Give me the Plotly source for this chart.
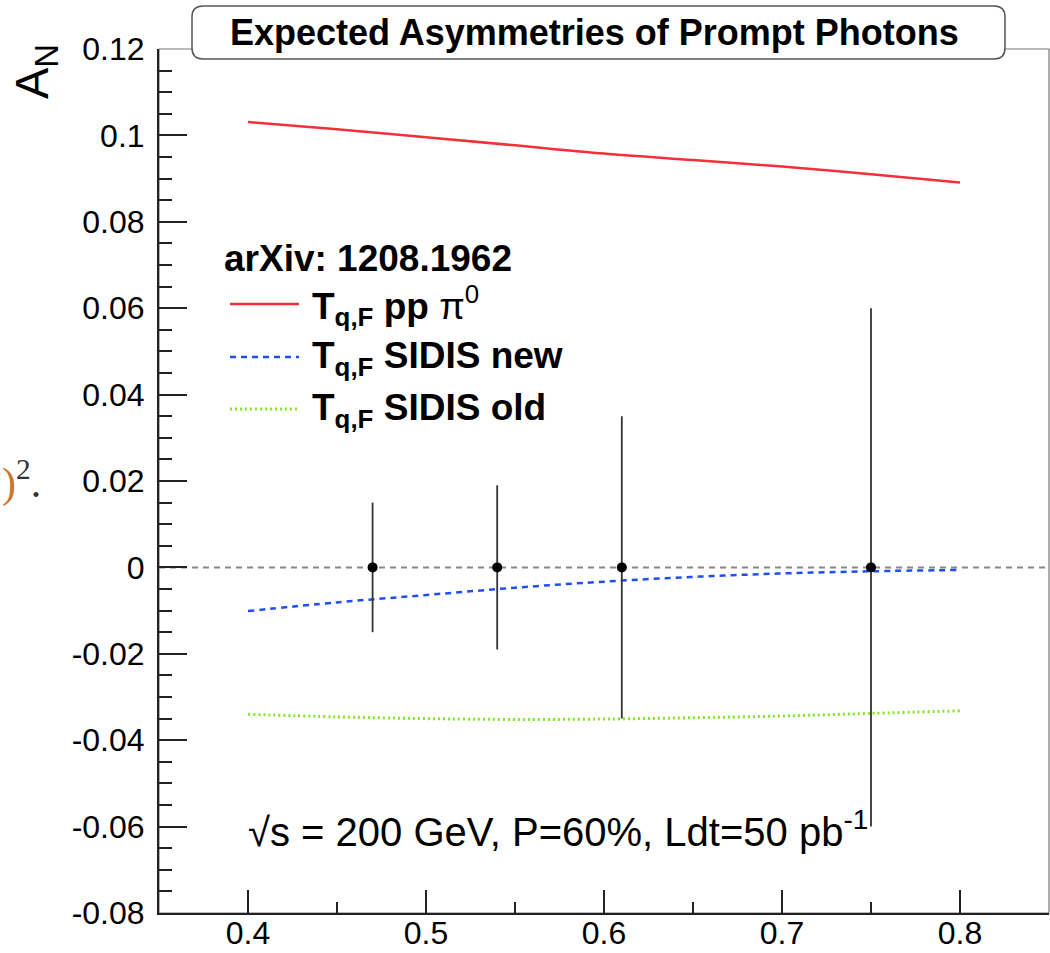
import plotly.graph_objects as go

# ---------------- data ----------------
x_curve = [0.40, 0.45, 0.50, 0.55, 0.60, 0.65, 0.70, 0.75, 0.80]
an_pp_pi0 = [0.1031, 0.1014, 0.0996, 0.0977, 0.0958, 0.0943, 0.0928, 0.0910, 0.0891]
an_sidis_new = [-0.0101, -0.0081, -0.0064, -0.0047, -0.0033, -0.0022, -0.0014, -0.0009, -0.0006]
an_sidis_old = [-0.0340, -0.0346, -0.0350, -0.0352, -0.0351, -0.0348, -0.0344, -0.0338, -0.0332]

x_points = [0.47, 0.54, 0.61, 0.75]
y_points = [0.0, 0.0, 0.0, 0.0]
y_errors = [0.015, 0.019, 0.035, 0.060]

zero_x = [0.35, 0.85]
zero_y = [0.0, 0.0]

y_tickvals = [0.12, 0.10, 0.08, 0.06, 0.04, 0.02, 0.0, -0.02, -0.04, -0.06, -0.08]
y_ticktext = ["0.12", "0.1", "0.08", "0.06", "0.04", "0.02", "0", "-0.02", "-0.04", "-0.06", "-0.08"]
x_tickvals = [0.4, 0.5, 0.6, 0.7, 0.8]
x_ticktext = ["0.4", "0.5", "0.6", "0.7", "0.8"]
x_minor = [0.45, 0.55, 0.65, 0.75]

title_text = "Expected Asymmetries of Prompt Photons"
legend_header = "arXiv: 1208.1962"
legend_labels = ["<b>T<sub>q,F</sub> pp </b>π<sup>0</sup>",
                 "<b>T<sub>q,F</sub> SIDIS new</b>",
                 "<b>T<sub>q,F</sub> SIDIS old</b>"]
info_text = "√s = 200 GeV, P=60%, Ldt=50 pb<sup>-1</sup>"

# ---------------- layout geometry ----------------
W, H = 1050, 953
ML, MR, MT, MB = 159, 1, 49, 40
PW, PH = W - ML - MR, H - MT - MB


def px(xp):
    return (xp - ML) / PW


def py(yp):
    return (H - MB - yp) / PH


RED = "#f2303a"
BLUE = "#1d4ff5"
GREEN = "#86e62a"
FONT = "Liberation Sans, Arial, sans-serif"

fig = go.Figure()

fig.add_trace(go.Scatter(x=zero_x, y=zero_y, mode="lines",
                         line=dict(color="#888888", width=2, dash="6px,5px"),
                         hoverinfo="skip", showlegend=False))
fig.add_trace(go.Scatter(x=x_curve, y=an_pp_pi0, mode="lines",
                         line=dict(color=RED, width=2.5, shape="spline"), showlegend=False))
fig.add_trace(go.Scatter(x=x_curve, y=an_sidis_new, mode="lines",
                         line=dict(color=BLUE, width=2.5, dash="6px,5px", shape="spline"), showlegend=False))
fig.add_trace(go.Scatter(x=x_curve, y=an_sidis_old, mode="lines",
                         line=dict(color=GREEN, width=3, dash="2px,3px", shape="spline"), showlegend=False))
fig.add_trace(go.Scatter(x=x_points, y=y_points, mode="markers",
                         marker=dict(color="black", size=10),
                         error_y=dict(type="data", array=y_errors, visible=True,
                                      color="#333333", thickness=1.8, width=0),
                         showlegend=False))

shapes = []
# frame (top/right in gray)
shapes.append(dict(type="rect", xref="paper", yref="paper", x0=0, x1=1, y0=0, y1=1,
                   line=dict(color="#777777", width=1.2), layer="below"))

# title box with rounded corners
bx0, bx1, by0, by1, r = 192, 1005, 6, 59, 11
path = (f"M {px(bx0 + r)},{py(by0)} L {px(bx1 - r)},{py(by0)} "
        f"Q {px(bx1)},{py(by0)} {px(bx1)},{py(by0 + r)} "
        f"L {px(bx1)},{py(by1 - r)} Q {px(bx1)},{py(by1)} {px(bx1 - r)},{py(by1)} "
        f"L {px(bx0 + r)},{py(by1)} Q {px(bx0)},{py(by1)} {px(bx0)},{py(by1 - r)} "
        f"L {px(bx0)},{py(by0 + r)} Q {px(bx0)},{py(by0)} {px(bx0 + r)},{py(by0)} Z")
shapes.append(dict(type="path", xref="paper", yref="paper", path=path,
                   fillcolor="white", line=dict(color="#555555", width=1.5), layer="above"))

# legend samples
leg_y = [304, 357, 409]
leg_styles = [dict(color=RED, width=2.5),
              dict(color=BLUE, width=2.5, dash="6px,5px"),
              dict(color=GREEN, width=3, dash="2px,3px")]
for yy, st in zip(leg_y, leg_styles):
    shapes.append(dict(type="line", xref="paper", yref="paper",
                       x0=px(230), x1=px(299), y0=py(yy), y1=py(yy), line=st))

annotations = []
annotations.append(dict(text=f"<b>{title_text}</b>", xref="paper", yref="paper",
                        x=px(594), y=py(33), xanchor="center", yanchor="middle",
                        showarrow=False, font=dict(family=FONT, size=36, color="black")))
annotations.append(dict(text="A<sub>N</sub>", xref="paper", yref="paper",
                        x=px(35), y=py(72), xanchor="center", yanchor="middle", textangle=-90,
                        showarrow=False, font=dict(family=FONT, size=47, color="black")))
annotations.append(dict(text=f"<b>{legend_header}</b>", xref="paper", yref="paper",
                        x=px(222), y=py(258), xanchor="left", yanchor="middle",
                        showarrow=False, font=dict(family=FONT, size=37, color="black")))
for yy, lab in zip(leg_y, legend_labels):
    annotations.append(dict(text=lab, xref="paper", yref="paper",
                            x=px(310), y=py(yy + 1), xanchor="left", yanchor="middle",
                            showarrow=False, font=dict(family=FONT, size=37, color="black")))
annotations.append(dict(text=info_text, xref="paper", yref="paper",
                        x=px(246), y=py(829), xanchor="left", yanchor="middle",
                        showarrow=False, font=dict(family=FONT, size=40, color="black")))
annotations.append(dict(text="<span style='color:#c8782e'>)</span><sup>2</sup>.",
                        xref="paper", yref="paper", x=px(0), y=py(480),
                        xanchor="left", yanchor="middle", showarrow=False,
                        font=dict(family="Liberation Serif, serif", size=42, color="#333333")))

fig.update_layout(
    width=W, height=H,
    margin=dict(l=ML, r=MR, t=MT, b=MB, pad=0),
    paper_bgcolor="white", plot_bgcolor="white",
    shapes=shapes, annotations=annotations,
    showlegend=False,
    xaxis=dict(range=[0.35, 0.85], showgrid=False, zeroline=False, automargin=False,
               showline=True, linecolor="#222222", linewidth=2,
               tickvals=x_tickvals, ticktext=x_ticktext,
               ticks="inside", ticklen=23, tickwidth=1.5, tickcolor="#222222",
               minor=dict(tickvals=x_minor, ticks="inside", ticklen=11,
                          tickwidth=1.5, tickcolor="#222222", showgrid=False),
               tickfont=dict(family=FONT, size=32, color="black"),
               ticklabelstandoff=-9),
    yaxis=dict(range=[-0.08, 0.12], showgrid=False, zeroline=False, automargin=False,
               showline=True, linecolor="#222222", linewidth=2,
               tickvals=y_tickvals, ticktext=y_ticktext,
               ticks="inside", ticklen=28, tickwidth=1.5, tickcolor="#222222",
               minor=dict(dtick=0.005, tick0=0, ticks="inside", ticklen=13,
                          tickwidth=1.5, tickcolor="#222222", showgrid=False),
               tickfont=dict(family=FONT, size=32, color="black"),
               ticklabelstandoff=6),
)

fig.write_html("out.html")
